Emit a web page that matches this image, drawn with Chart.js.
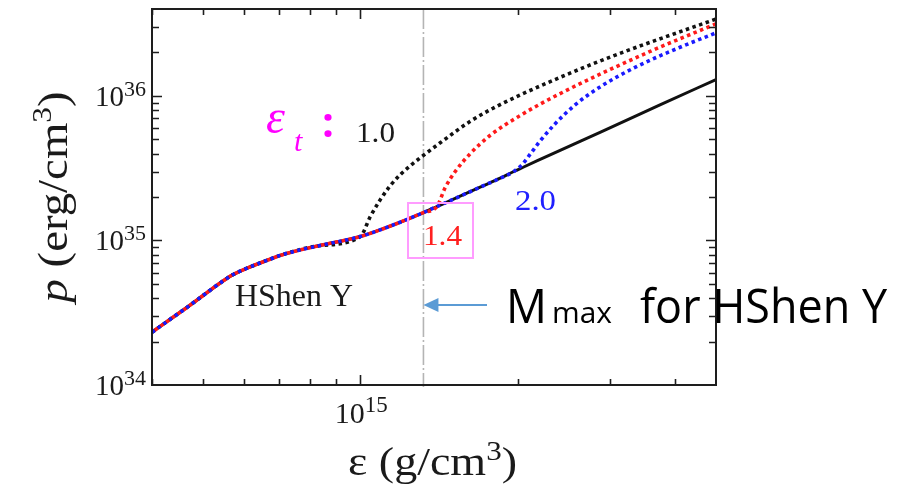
<!DOCTYPE html>
<html>
<head>
<meta charset="utf-8">
<script src="https://cdn.jsdelivr.net/npm/chart.js@4.4.1/dist/chart.umd.min.js"></script>
<style>
  html, body { margin: 0; padding: 0; background: #fff; }
  #wrap { width: 907px; height: 488px; }
</style>
</head>
<body>
<div id="wrap"><canvas id="chart" width="907" height="488"></canvas></div>
<script>
'use strict';

// HShen Y equation of state: energy density (g/cm^3) vs pressure (erg/cm^3)
const baseEps  = [4.0e14, 4.74e14, 5.45e14, 5.70e14, 6.03e14, 6.59e14, 7.13e14, 8.28e14, 1.0e15, 1.141e15,
                  1.32e15, 1.40e15, 1.485e15, 1.694e15, 1.85e15, 1.96e15, 2.047e15, 2.408e15, 2.884e15, 3.736e15, 4.78e15];
const basePres = [2.32e34, 3.59e34, 5.21e34, 5.78e34, 6.36e34, 7.22e34, 8.01e34, 9.16e34, 1.066e35, 1.259e35,
                  1.56e35, 1.716e35, 1.887e35, 2.339e35, 2.698e35, 2.99e35, 3.213e35, 4.209e35, 5.645e35, 8.669e35, 1.30e36];

// stiffened branches, labelled by transition density eps_t (10^15 g/cm^3)
const t10Eps  = [1.0e15, 1.045e15, 1.092e15, 1.141e15, 1.192e15, 1.246e15, 1.302e15, 1.421e15, 1.622e15, 1.85e15, 2.305e15, 3.013e15, 4.78e15];
const t10Pres = [1.066e35, 1.464e35, 1.918e35, 2.395e35, 2.852e35, 3.29e35, 3.737e35, 4.743e35, 6.679e35, 8.724e35, 1.257e36, 1.87e36, 3.408e36];
const t14Eps  = [1.40e15, 1.453e15, 1.518e15, 1.622e15, 1.771e15, 2.02e15, 2.408e15, 3.577e15, 4.78e15];
const t14Pres = [1.716e35, 2.328e35, 3.0e35, 3.994e35, 5.349e35, 7.323e35, 1.039e36, 2.034e36, 3.157e36];
const t20Eps  = [1.96e15, 2.038e15, 2.111e15, 2.206e15, 2.356e15, 2.572e15, 2.871e15, 3.348e15, 4.081e15, 4.78e15];
const t20Pres = [2.99e35, 3.354e35, 3.956e35, 4.887e35, 6.422e35, 8.682e35, 1.156e36, 1.578e36, 2.174e36, 2.734e36];

const mmaxEps = 1.32e15;

const xTicks = [4e14, 5e14, 6e14, 7e14, 8e14, 9e14, 1e15, 2e15, 3e15, 4e15];
const yTicks = [2e34, 3e34, 4e34, 5e34, 6e34, 7e34, 8e34, 9e34, 1e35,
                2e35, 3e35, 4e35, 5e35, 6e35, 7e35, 8e35, 9e35, 1e36, 2e36, 3e36];
const xLabels = [1e15];
const yLabels = [1e34, 1e35, 1e36];

function pts(xs, ys) {
    return xs.map((x, i) => ({ x: x, y: ys[i] }));
}

// base curve up to the transition, then the branch
function branch(bEps, bPres) {
    const out = [];
    baseEps.forEach((e, i) => { if (e < bEps[0]) out.push({ x: e, y: basePres[i] }); });
    return out.concat(pts(bEps, bPres));
}

const SERIF = '"Liberation Serif", "DejaVu Serif", serif';
const SANS = '"Open Sans", "Noto Sans", sans-serif';

// draw a row of text pieces; optional fixed total width
function runs(ctx, parts, x, y, opts) {
    opts = opts || {};
    let w = 0;
    parts.forEach(p => { ctx.font = p.font; p.w = ctx.measureText(p.t).width; w += p.w; });
    const sx = opts.width ? opts.width / w : 1;
    const total = w * sx;
    let x0 = x;
    if (opts.align === 'center') x0 = x - total / 2;
    if (opts.align === 'right') x0 = x - total;
    ctx.save();
    ctx.translate(x0, y);
    ctx.scale(sx, 1);
    ctx.textBaseline = 'alphabetic';
    ctx.textAlign = 'left';
    let cx = 0;
    parts.forEach(p => {
        ctx.font = p.font;
        ctx.fillStyle = p.color || opts.color || '#1a1a1a';
        ctx.fillText(p.t, cx, p.dy || 0);
        cx += p.w;
    });
    ctx.restore();
}

const decor = {
    id: 'decor',
    beforeDatasetsDraw(chart) {
        const ctx = chart.ctx, a = chart.chartArea, xs = chart.scales.x;
        const mx = xs.getPixelForValue(mmaxEps);
        ctx.save();
        ctx.strokeStyle = '#b4b4b4';
        ctx.lineWidth = 1.6;
        ctx.setLineDash([20, 3, 2, 3]);
        ctx.beginPath();
        ctx.moveTo(mx, a.top);
        ctx.lineTo(mx, a.bottom + 2);
        ctx.stroke();
        ctx.restore();
    },
    afterDatasetsDraw(chart) {
        const ctx = chart.ctx, a = chart.chartArea;
        const xs = chart.scales.x, ys = chart.scales.y;
        ctx.save();

        // frame
        ctx.strokeStyle = '#1e1e1e';
        ctx.lineWidth = 2;
        ctx.strokeRect(a.left, a.top, a.right - a.left, a.bottom - a.top);

        // inward ticks on all four sides
        ctx.lineWidth = 1.6;
        ctx.beginPath();
        xTicks.forEach(v => {
            const px = Math.round(xs.getPixelForValue(v)) + 0.5;
            const len = xLabels.includes(v) ? 10 : 6;
            ctx.moveTo(px, a.bottom); ctx.lineTo(px, a.bottom - len);
            ctx.moveTo(px, a.top); ctx.lineTo(px, a.top + len);
        });
        yTicks.forEach(v => {
            const py = Math.round(ys.getPixelForValue(v)) + 0.5;
            const len = yLabels.includes(v) ? 10 : 7;
            ctx.moveTo(a.left, py); ctx.lineTo(a.left + len, py);
            ctx.moveTo(a.right, py); ctx.lineTo(a.right - len, py);
        });
        ctx.stroke();

        // tick labels
        yLabels.forEach(v => {
            const py = ys.getPixelForValue(v);
            runs(ctx, [
                { t: '10', font: '29px ' + SERIF },
                { t: String(Math.round(Math.log10(v))), font: '22px ' + SERIF, dy: -10 }
            ], a.left - 6, py + 10, { align: 'right' });
        });
        xLabels.forEach(v => {
            const px = xs.getPixelForValue(v);
            runs(ctx, [
                { t: '10', font: '30px ' + SERIF },
                { t: String(Math.round(Math.log10(v))), font: '23px ' + SERIF, dy: -11 }
            ], px + 1, 423, { align: 'center' });
        });

        // axis titles
        runs(ctx, [
            { t: 'ε (g/cm', font: '40px ' + SERIF },
            { t: '3', font: '27px ' + SERIF, dy: -15 },
            { t: ')', font: '40px ' + SERIF }
        ], 348, 475, { width: 169 });

        ctx.save();
        ctx.translate(67, 197);
        ctx.rotate(-Math.PI / 2);
        runs(ctx, [
            { t: 'p', font: 'italic 42px ' + SERIF },
            { t: ' (erg/cm', font: '42px ' + SERIF },
            { t: '3', font: '28px ' + SERIF, dy: -16 },
            { t: ')', font: '42px ' + SERIF }
        ], 0, 0, { align: 'center', width: 211 });
        ctx.restore();

        // curve labels
        runs(ctx, [{ t: 'ε', font: 'italic 48px ' + SERIF }], 266, 133, { color: '#ff00ff' });
        runs(ctx, [{ t: 't', font: 'italic 30px ' + SERIF }], 294, 151, { color: '#ff00ff' });
        runs(ctx, [{ t: ':', font: 'bold 42px ' + SANS }], 322, 137, { color: '#ff00ff' });
        runs(ctx, [{ t: '1.0', font: '30px ' + SERIF }], 356, 142, { color: '#1a1a1a', width: 39 });
        runs(ctx, [{ t: '2.0', font: '30px ' + SERIF }], 515, 210, { color: '#2020ff', width: 41 });
        runs(ctx, [{ t: '1.4', font: '30px ' + SERIF }], 423, 245, { color: '#ff2020', width: 39 });
        runs(ctx, [{ t: 'HShen Y', font: '32px ' + SERIF }], 235, 306, { color: '#1a1a1a', width: 118 });

        ctx.strokeStyle = '#ff9cff';
        ctx.lineWidth = 2;
        ctx.strokeRect(408, 203, 65, 55);

        // M_max marker
        const mx = xs.getPixelForValue(mmaxEps);
        ctx.strokeStyle = '#5b9bd5';
        ctx.fillStyle = '#5b9bd5';
        ctx.lineWidth = 2;
        ctx.beginPath();
        ctx.moveTo(mx + 12, 305); ctx.lineTo(487, 305);
        ctx.stroke();
        ctx.beginPath();
        ctx.moveTo(mx, 305); ctx.lineTo(mx + 15, 298); ctx.lineTo(mx + 15, 312);
        ctx.closePath();
        ctx.fill();

        runs(ctx, [{ t: 'M', font: '48px ' + SANS }], 506, 323, { color: '#000', width: 41 });
        runs(ctx, [{ t: 'max', font: '30px ' + SANS }], 552, 323, { color: '#000', width: 60 });
        runs(ctx, [{ t: 'for HShen Y', font: '48px ' + SANS }], 640, 323, { color: '#000', width: 247 });

        ctx.restore();
    }
};

const dotted = { borderWidth: 3.6, borderDash: [3.5, 3.5], borderCapStyle: 'butt', pointRadius: 0, fill: false, cubicInterpolationMode: 'monotone' };

new Chart(document.getElementById('chart'), {
    type: 'line',
    data: {
        datasets: [
            Object.assign({ data: branch(t14Eps, t14Pres), borderColor: '#ff1a1a', borderDashOffset: 3.5, order: 0 }, dotted),
            Object.assign({ data: branch(t20Eps, t20Pres), borderColor: '#1a1aff', order: 1 }, dotted),
            Object.assign({ data: branch(t10Eps, t10Pres), borderColor: '#111', order: 2 }, dotted),
            { data: pts(baseEps, basePres), borderColor: '#111', borderWidth: 3, pointRadius: 0, fill: false, cubicInterpolationMode: 'monotone', order: 3 }
        ]
    },
    plugins: [decor],
    options: {
        responsive: false,
        animation: false,
        layout: { padding: { left: 152, right: 191, top: 9, bottom: 103 } },
        scales: {
            x: { type: 'logarithmic', min: 4e14, max: 4.78e15, display: false },
            y: { type: 'logarithmic', min: 1e34, max: 4e36, display: false }
        },
        plugins: { legend: { display: false }, tooltip: { enabled: false } }
    }
});
</script>
</body>
</html>
